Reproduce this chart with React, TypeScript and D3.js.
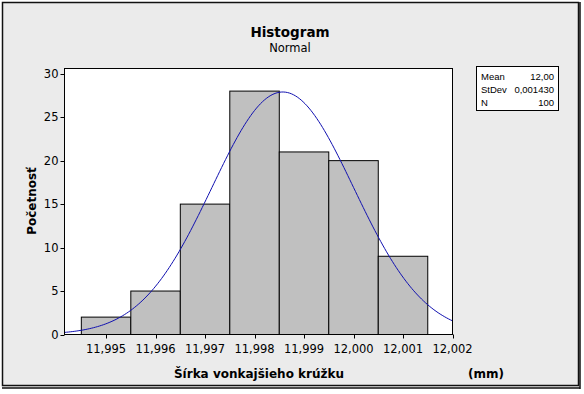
import React from "react";
import * as d3 from "d3";

const binCenters = [11.995, 11.996, 11.997, 11.998, 11.999, 12.0, 12.001];
const counts = [2, 5, 15, 28, 21, 20, 9];
const xTicks = [11.995, 11.996, 11.997, 11.998, 11.999, 12.0, 12.001, 12.002];
const yTicks = [0, 5, 10, 15, 20, 25, 30];
const fitMean = 11.99857;
const fitStDev = 0.00143;
const sampleN = 100;
const binWidth = 0.001;
const legendRows = [
  ["Mean", "12,00"],
  ["StDev", "0,001430"],
  ["N", "100"],
];

const W = 584;
const H = 394;
const left = 64.5;
const right = 452.5;
const top = 68.5;
const bottom = 334.5;
const font = "'DejaVu Sans', Verdana, sans-serif";

export default function App() {
  const x = d3.scaleLinear().domain([11.99416, 12.002]).range([left, right]);
  const y = d3.scaleLinear().domain([0, 30.6]).range([bottom, top]);
  const fmt = (v: number) => d3.format(".3f")(v).replace(".", ",");

  const [d0, d1] = x.domain();
  const pts: [number, number][] = d3.range(0, 201).map((i) => {
    const v = d0 + ((d1 - d0) * i) / 200;
    const dens =
      (sampleN * binWidth) /
      (fitStDev * Math.sqrt(2 * Math.PI)) *
      Math.exp(-0.5 * ((v - fitMean) / fitStDev) ** 2);
    return [v, dens];
  });
  const line = d3
    .line<[number, number]>()
    .x((d) => x(d[0]))
    .y((d) => y(d[1]))
    .curve(d3.curveLinear);

  return (
    <svg
      width={W}
      height={H}
      style={{ position: "absolute", left: 0, top: 0 }}
      fontFamily={font}
    >
      <rect x={0} y={0} width={W} height={H} fill="#ffffff" />
      <rect x={2} y={2} width={578} height={386} fill="#ebebeb" />
      <rect x={2.5} y={2.5} width={576} height={383} fill="none" stroke="#111" strokeWidth={1.5} />
      <line x1={2} x2={580} y1={388} y2={388} stroke="#111" strokeWidth={1.5} />
      <line x1={580} x2={580} y1={2} y2={389} stroke="#111" strokeWidth={1.5} />

      <text x={290} y={37} textAnchor="middle" fontSize={13.5} fontWeight="bold" fill="#000">
        Histogram
      </text>
      <text x={290} y={52} textAnchor="middle" fontSize={11.5} fill="#000">
        Normal
      </text>

      <rect x={left} y={top} width={right - left} height={bottom - top} fill="#ffffff" />

      {counts.map((c, i) => (
        <rect
          key={i}
          x={x(binCenters[i] - binWidth / 2)}
          y={y(c)}
          width={x(binCenters[i] + binWidth / 2) - x(binCenters[i] - binWidth / 2)}
          height={y(0) - y(c)}
          fill="#c0c0c0"
          stroke="#000"
          strokeWidth={1}
        />
      ))}

      <path d={line(pts) || ""} fill="none" stroke="#1010b0" strokeWidth={1} />

      <rect x={left} y={top} width={right - left} height={bottom - top} fill="none" stroke="#000" strokeWidth={1} />

      {yTicks.map((t) => (
        <g key={t}>
          <line x1={left - 4} x2={left} y1={Math.round(y(t)) + 0.5} y2={Math.round(y(t)) + 0.5} stroke="#000" />
          <text x={left - 6} y={y(t) + 4} textAnchor="end" fontSize={11.5} fill="#000">
            {t}
          </text>
        </g>
      ))}
      {xTicks.map((t) => (
        <g key={t}>
          <line x1={Math.round(x(t)) + 0.5} x2={Math.round(x(t)) + 0.5} y1={bottom} y2={bottom + 4} stroke="#000" />
          <text x={x(t)} y={bottom + 18} textAnchor="middle" fontSize={11.5} fill="#000">
            {fmt(t)}
          </text>
        </g>
      ))}

      <text x={259} y={378} textAnchor="middle" fontSize={12} fontWeight="bold" fill="#000">
        Šírka vonkajšieho krúžku
      </text>
      <text x={486} y={378} textAnchor="middle" fontSize={12} fontWeight="bold" fill="#000">
        (mm)
      </text>
      <text
        transform={`translate(36,201) rotate(-90)`}
        textAnchor="middle"
        fontSize={12}
        fontWeight="bold"
        fill="#000"
      >
        Početnosť
      </text>

      <rect x={476.5} y={66.5} width={82} height={44} fill="#ffffff" stroke="#000" strokeWidth={1} />
      {legendRows.map((r, i) => (
        <g key={r[0]} fontSize={9.5} fill="#000" fontFamily="'Liberation Sans', Arial, sans-serif">
          <text x={481} y={80 + i * 13}>
            {r[0]}
          </text>
          <text x={554} y={80 + i * 13} textAnchor="end">
            {r[1]}
          </text>
        </g>
      ))}
    </svg>
  );
}
